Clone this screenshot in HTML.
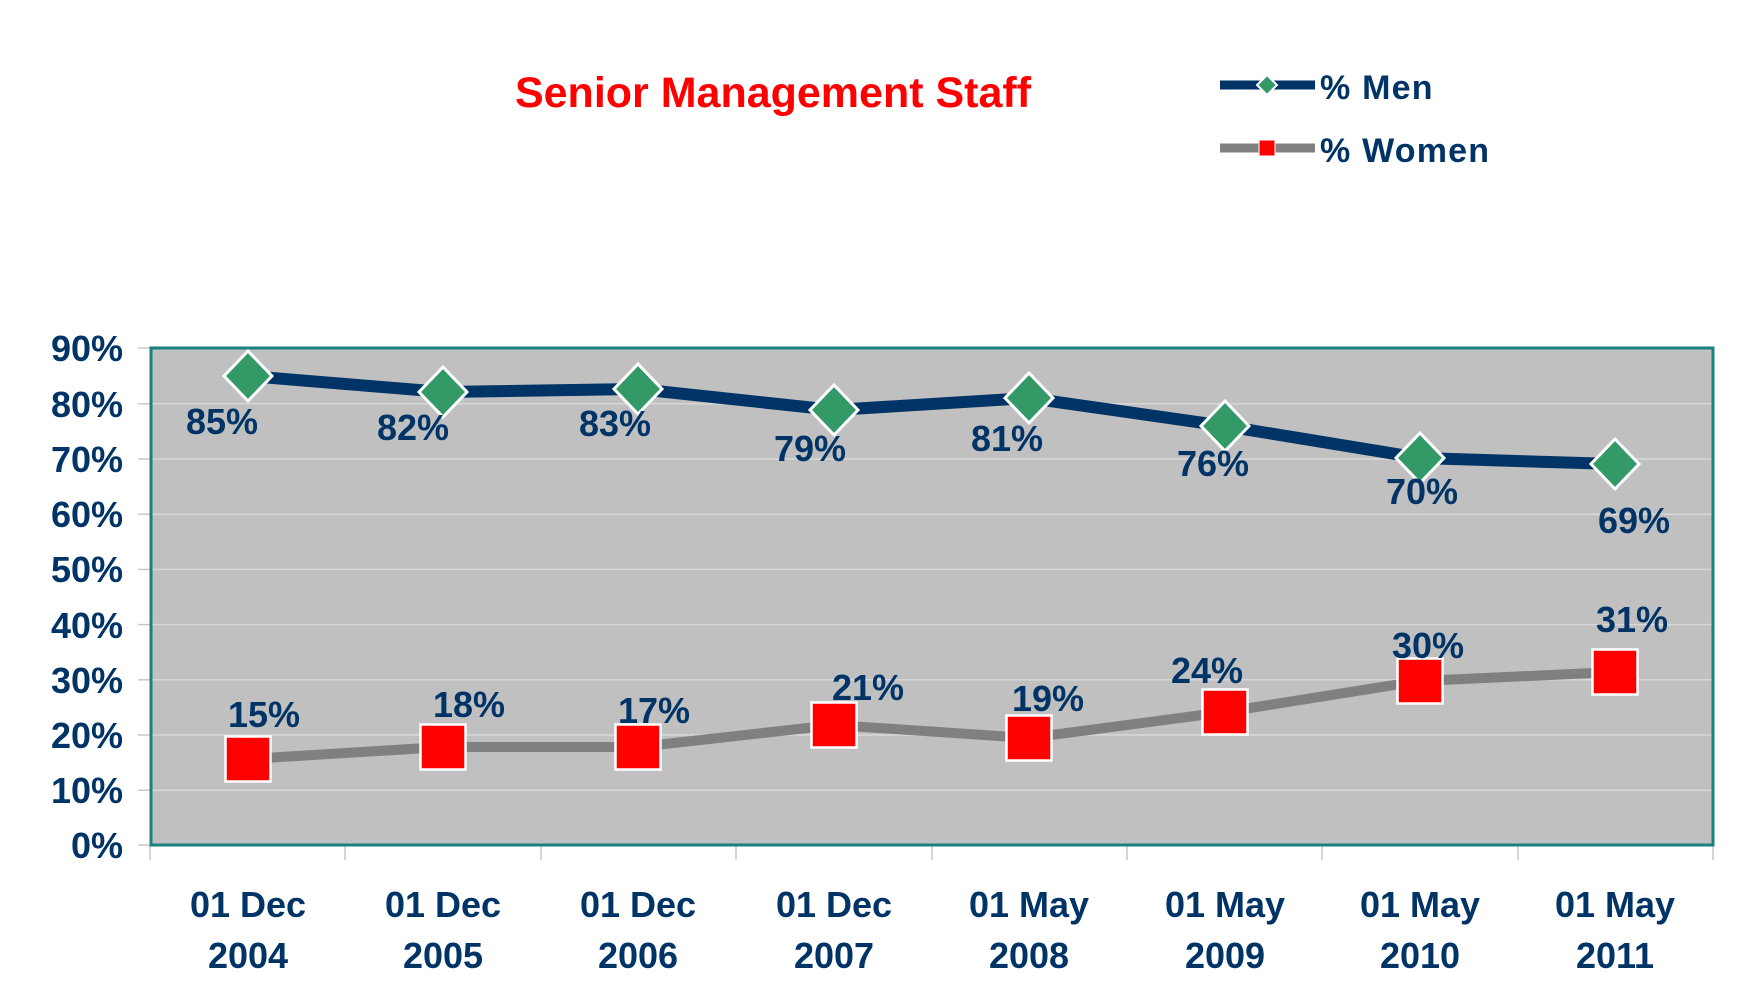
<!DOCTYPE html>
<html><head><meta charset="utf-8"><style>
html,body{margin:0;padding:0;background:#fff;}
svg{display:block;}
text{font-family:"Liberation Sans",Arial,sans-serif;font-weight:bold;}
</style></head><body>
<svg width="1761" height="997" viewBox="0 0 1761 997" xmlns="http://www.w3.org/2000/svg">
<rect width="1761" height="997" fill="#fff"/>
<text x="773" y="107" font-size="43" fill="#ff0000" text-anchor="middle">Senior Management Staff</text>
<!-- legend -->
<line x1="1220" y1="85" x2="1315" y2="85" stroke="#003366" stroke-width="9"/>
<polygon points="1267,75 1277,85 1267,95 1257,85" fill="#339966" stroke="#fff" stroke-width="2"/>
<text x="1320" y="99" font-size="34" fill="#003366" letter-spacing="1.2">% Men</text>
<line x1="1220" y1="148" x2="1315" y2="148" stroke="#808080" stroke-width="9"/>
<rect x="1259" y="140" width="16" height="16" fill="#ff0000" stroke="#fff" stroke-width="1"/>
<text x="1320" y="162" font-size="34" fill="#003366" letter-spacing="1.2">% Women</text>
<!-- plot -->
<rect x="151" y="348" width="1562" height="497" fill="#c0c0c0"/>
<g stroke="#d8d8d8" stroke-width="1.5">
<line x1="151" y1="403.8" x2="1713" y2="403.8"/>
<line x1="151" y1="459" x2="1713" y2="459"/>
<line x1="151" y1="514.2" x2="1713" y2="514.2"/>
<line x1="151" y1="569.4" x2="1713" y2="569.4"/>
<line x1="151" y1="624.6" x2="1713" y2="624.6"/>
<line x1="151" y1="679.8" x2="1713" y2="679.8"/>
<line x1="151" y1="735" x2="1713" y2="735"/>
<line x1="151" y1="790.2" x2="1713" y2="790.2"/>
</g>
<g stroke="#c8c8c8" stroke-width="1.5">
<line x1="138" y1="348" x2="150" y2="348"/><line x1="138" y1="403.8" x2="150" y2="403.8"/><line x1="138" y1="459" x2="150" y2="459"/><line x1="138" y1="514.2" x2="150" y2="514.2"/><line x1="138" y1="569.4" x2="150" y2="569.4"/><line x1="138" y1="624.6" x2="150" y2="624.6"/><line x1="138" y1="679.8" x2="150" y2="679.8"/><line x1="138" y1="735" x2="150" y2="735"/><line x1="138" y1="790.2" x2="150" y2="790.2"/><line x1="138" y1="845" x2="150" y2="845"/>
<line x1="150" y1="846" x2="150" y2="860"/><line x1="345" y1="846" x2="345" y2="860"/><line x1="541" y1="846" x2="541" y2="860"/><line x1="736" y1="846" x2="736" y2="860"/><line x1="932" y1="846" x2="932" y2="860"/><line x1="1127" y1="846" x2="1127" y2="860"/><line x1="1322" y1="846" x2="1322" y2="860"/><line x1="1518" y1="846" x2="1518" y2="860"/><line x1="1713" y1="846" x2="1713" y2="860"/>
</g>
<rect x="151" y="348" width="1562" height="497" fill="none" stroke="#1a8080" stroke-width="3"/>
<g font-size="36" fill="#003366" text-anchor="end">
<text x="123" y="361">90%</text><text x="123" y="417">80%</text><text x="123" y="472">70%</text><text x="123" y="527">60%</text><text x="123" y="582">50%</text><text x="123" y="638">40%</text><text x="123" y="693">30%</text><text x="123" y="748">20%</text><text x="123" y="803">10%</text><text x="123" y="858">0%</text>
</g>
<g font-size="36" fill="#003366" text-anchor="middle">
<text x="248" y="917">01 Dec</text><text x="248" y="968">2004</text>
<text x="443" y="917">01 Dec</text><text x="443" y="968">2005</text>
<text x="638" y="917">01 Dec</text><text x="638" y="968">2006</text>
<text x="834" y="917">01 Dec</text><text x="834" y="968">2007</text>
<text x="1029" y="917">01 May</text><text x="1029" y="968">2008</text>
<text x="1225" y="917">01 May</text><text x="1225" y="968">2009</text>
<text x="1420" y="917">01 May</text><text x="1420" y="968">2010</text>
<text x="1615" y="917">01 May</text><text x="1615" y="968">2011</text>
</g>
<!-- series -->
<polyline points="248,759 443,747 638,747 834,725 1029,738 1225,712 1420,681 1615,672" fill="none" stroke="#808080" stroke-width="10"/>
<polyline points="248,376 443,392 638,389 834,410 1029,398 1225,426 1420,458 1615,464" fill="none" stroke="#003366" stroke-width="12"/>
<g fill="#339966" stroke="#fff" stroke-width="3">
<polygon points="248,351 272,376 248,401 224,376"/>
<polygon points="443,367 467,392 443,417 419,392"/>
<polygon points="638,364 662,389 638,414 614,389"/>
<polygon points="834,385 858,410 834,435 810,410"/>
<polygon points="1029,373 1053,398 1029,423 1005,398"/>
<polygon points="1225,401 1249,426 1225,451 1201,426"/>
<polygon points="1420,433 1444,458 1420,483 1396,458"/>
<polygon points="1615,439 1639,464 1615,489 1591,464"/>
</g>
<g fill="#ff0000" stroke="#fff" stroke-width="2.5">
<rect x="225.5" y="736.5" width="45" height="45"/>
<rect x="420.5" y="724.5" width="45" height="45"/>
<rect x="615.5" y="724.5" width="45" height="45"/>
<rect x="811.5" y="702.5" width="45" height="45"/>
<rect x="1006.5" y="715.5" width="45" height="45"/>
<rect x="1202.5" y="689.5" width="45" height="45"/>
<rect x="1397.5" y="658.5" width="45" height="45"/>
<rect x="1592.5" y="649.5" width="45" height="45"/>
</g>
<g font-size="36" fill="#003366" text-anchor="middle">
<text x="222" y="434">85%</text><text x="413" y="440">82%</text><text x="615" y="436">83%</text><text x="810" y="461">79%</text><text x="1007" y="451">81%</text><text x="1213" y="476">76%</text><text x="1422" y="504">70%</text><text x="1634" y="533">69%</text>
<text x="264" y="727">15%</text><text x="469" y="717">18%</text><text x="654" y="723">17%</text><text x="868" y="700">21%</text><text x="1048" y="711">19%</text><text x="1207" y="683">24%</text><text x="1428" y="658">30%</text><text x="1632" y="632">31%</text>
</g>
</svg>
</body></html>
